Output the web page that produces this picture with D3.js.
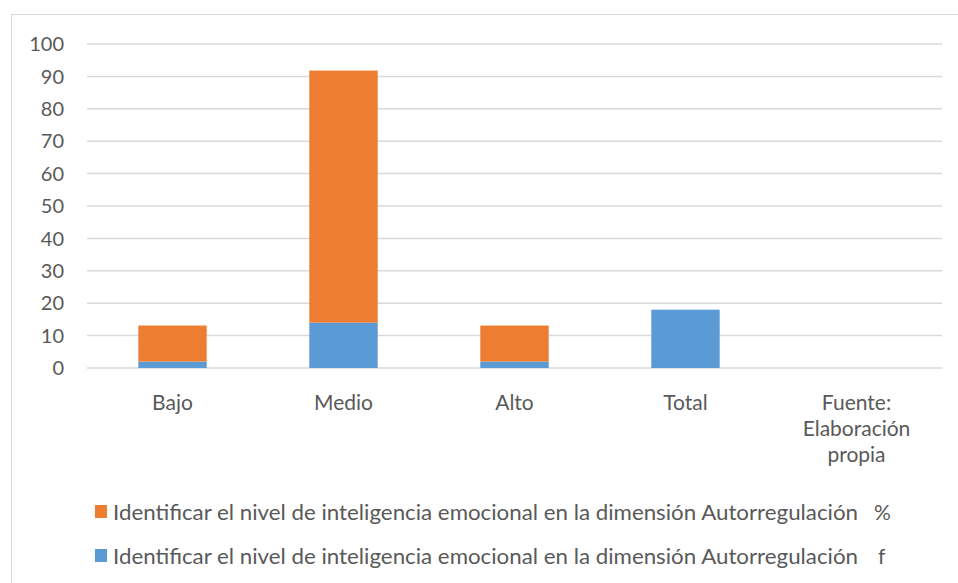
<!DOCTYPE html>
<html lang="es">
<head>
<meta charset="UTF-8">
<title>Autorregulación</title>
<script src="https://d3js.org/d3.v7.min.js"></script>
<style>
  body { margin: 0; background: #fff; }
  svg text { font-family: Lato, "Open Sans", sans-serif; fill: #595959; }
</style>
</head>
<body>
<div id="chart"></div>
<script>
// categories and values
const categories = ["Bajo", "Medio", "Alto", "Total", "Fuente: Elaboración propia"];
const freqValues = [2, 14, 2, 18, null];          // f
const pctValues = [11.1, 77.8, 11.1, null, null]; // %
const yTicks = [0, 10, 20, 30, 40, 50, 60, 70, 80, 90, 100];
const seriesNames = [
  "Identificar el nivel de inteligencia emocional en la dimensión Autorregulación",
  "Identificar el nivel de inteligencia emocional en la dimensión Autorregulación"
];
const seriesSuffix = ["%", "f"];
const colors = { f: "#5b9bd5", pct: "#ed7d31" };

const width = 958, height = 583;
const margin = { top: 44, left: 87, right: 16, bottom: 215 };

const svg = d3.select("#chart").append("svg")
    .attr("width", width)
    .attr("height", height);

// outer chart border
svg.append("rect")
    .attr("x", 11.5).attr("y", 14.5)
    .attr("width", 960).attr("height", 600)
    .attr("fill", "none")
    .attr("stroke", "#d9d9d9");

const x = d3.scaleBand()
    .domain(categories)
    .range([margin.left, width - margin.right])
    .paddingInner(0.6)
    .paddingOuter(0.3);

const y = d3.scaleLinear()
    .domain([0, 100])
    .range([368, margin.top]);

// gridlines
svg.append("g")
    .selectAll("line")
    .data(yTicks)
    .enter().append("line")
    .attr("x1", margin.left)
    .attr("x2", width - margin.right)
    .attr("y1", d => y(d))
    .attr("y2", d => y(d))
    .attr("stroke", "#d9d9d9")
    .attr("stroke-width", 1.5);

// y tick labels
svg.append("g")
    .selectAll("text")
    .data(yTicks)
    .enter().append("text")
    .attr("x", 64)
    .attr("y", d => y(d))
    .attr("dy", "0.36em")
    .attr("text-anchor", "end")
    .style("font-size", "20px")
    .text(d => d);

// stacked bars
const rows = categories.map((c, i) => ({ cat: c, f: freqValues[i] || 0, pct: pctValues[i] || 0 }));
const stack = d3.stack().keys(["f", "pct"])(rows);

svg.append("g")
    .selectAll("g")
    .data(stack)
    .enter().append("g")
    .attr("fill", s => s.key === "f" ? colors.f : colors.pct)
    .selectAll("rect")
    .data(s => s.filter(d => d[1] - d[0] > 0))
    .enter().append("rect")
    .attr("x", d => x(d.data.cat))
    .attr("width", x.bandwidth())
    .attr("y", d => y(d[1]))
    .attr("height", d => y(d[0]) - y(d[1]));

// category labels
const catLabels = [["Bajo"], ["Medio"], ["Alto"], ["Total"], ["Fuente:", "Elaboración", "propia"]];
svg.append("g")
    .selectAll("text")
    .data(categories)
    .enter().append("text")
    .attr("x", d => x(d) + x.bandwidth() / 2)
    .attr("y", 410)
    .attr("text-anchor", "middle")
    .style("font-size", "21px")
    .each(function(d, i) {
        d3.select(this).selectAll("tspan")
            .data(catLabels[i])
            .enter().append("tspan")
            .attr("x", x(d) + x.bandwidth() / 2)
            .attr("dy", (t, j) => j === 0 ? 0 : 26)
            .text(t => t);
    });

// legend
const legendRows = [
    { name: seriesNames[0], suffix: seriesSuffix[0], color: colors.pct, y: 520 },
    { name: seriesNames[1], suffix: seriesSuffix[1], color: colors.f, y: 564 }
];
const lg = svg.append("g")
    .selectAll("g")
    .data(legendRows)
    .enter().append("g");

lg.append("rect")
    .attr("x", 95)
    .attr("y", d => d.y - 15)
    .attr("width", 12)
    .attr("height", 13)
    .attr("fill", d => d.color);

lg.append("text")
    .attr("x", 113)
    .attr("y", d => d.y)
    .style("font-size", "21px")
    .attr("textLength", 745)
    .attr("lengthAdjust", "spacingAndGlyphs")
    .text(d => d.name);

lg.append("text")
    .attr("x", (d, i) => i === 0 ? 874 : 878)
    .attr("y", d => d.y)
    .style("font-size", "21px")
    .text(d => d.suffix);
</script>
</body>
</html>
